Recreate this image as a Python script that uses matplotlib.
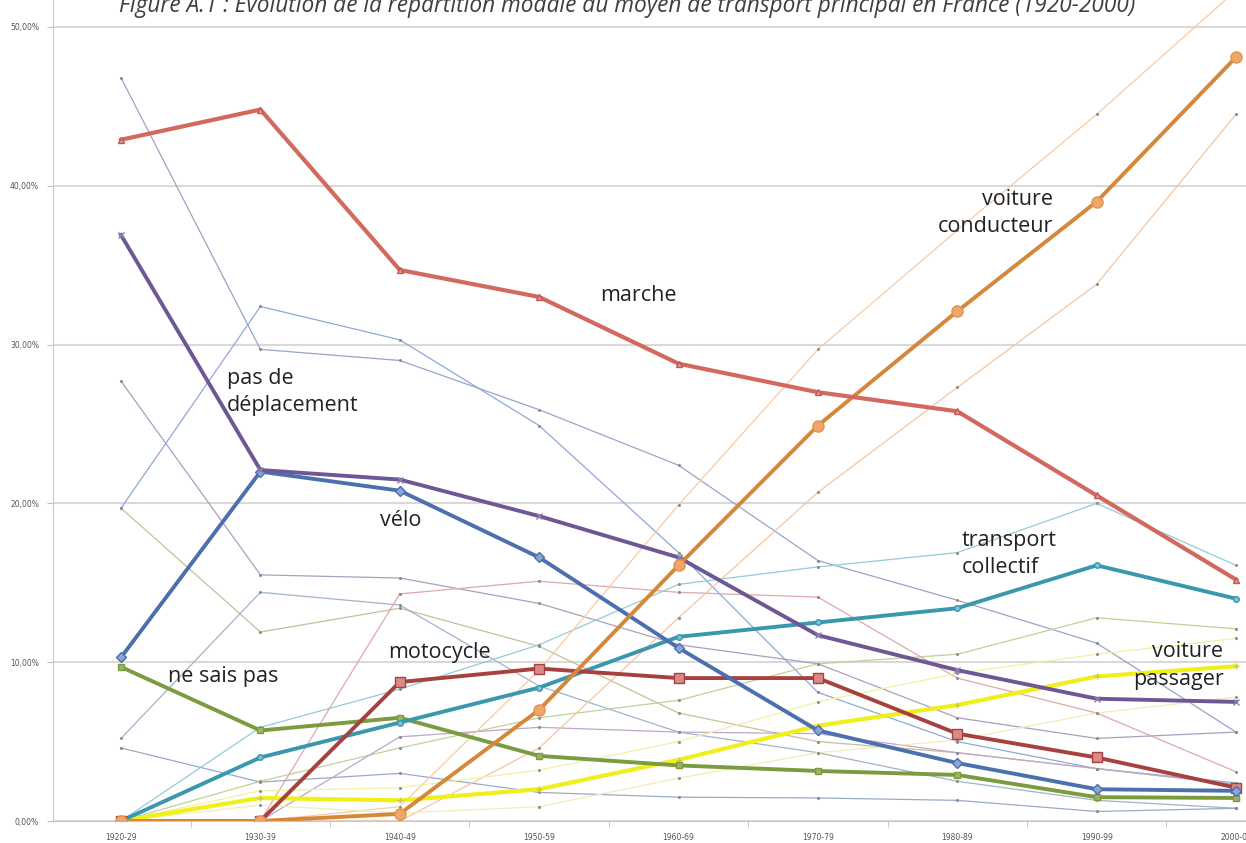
import matplotlib.pyplot as plt
import numpy as np

# périodes (axe x)
periodes = ['1920-29', '1930-39', '1940-49', '1950-59', '1960-69',
            '1970-79', '1980-89', '1990-99', '2000-08']

# séries principales (en %)
marche = [42.9, 44.8, 34.7, 33.0, 28.8, 27.0, 25.8, 20.5, 15.2]
pas_deplacement = [36.9, 22.1, 21.5, 19.2, 16.6, 11.7, 9.5, 7.7, 7.5]
velo = [10.3, 22.0, 20.8, 16.6, 10.9, 5.7, 3.65, 2.0, 1.9]
transport_collectif = [0.0, 4.0, 6.2, 8.4, 11.6, 12.5, 13.4, 16.1, 14.0]
motocycle = [0.0, 0.0, 8.75, 9.6, 9.0, 9.0, 5.5, 4.0, 2.1]
ne_sais_pas = [9.7, 5.7, 6.5, 4.1, 3.5, 3.15, 2.9, 1.5, 1.45]
voiture_conducteur = [0.0, 0.0, 0.45, 7.0, 16.1, 24.9, 32.1, 39.0, 48.1]
voiture_passager = [0.0, 1.45, 1.3, 2.0, 3.85, 6.0, 7.3, 9.1, 9.75]

# séries secondaires (traits fins)
fin_a = [46.8, 29.7, 29.0, 25.9, 22.4, 16.4, 13.9, 11.2, 5.6]
fin_b = [19.7, 32.4, 30.3, 24.9, 16.9, 8.1, 5.0, 3.3, 2.4]
fin_c = [27.7, 15.5, 15.3, 13.7, 11.1, 9.9, 6.5, 5.2, 5.6]
fin_d = [19.7, 11.9, 13.4, 11.0, 6.8, 5.0, 4.3, 3.3, 2.3]
fin_e = [5.2, 14.4, 13.6, 8.5, 5.6, 4.3, 2.5, 1.3, 0.8]
fin_f = [0.0, 5.9, 8.3, 11.1, 14.9, 16.0, 16.9, 20.0, 16.1]
fin_g = [4.6, 2.45, 3.0, 1.8, 1.5, 1.45, 1.3, 0.6, 0.8]
fin_h = [0.0, 2.5, 4.6, 6.5, 7.6, 9.9, 10.5, 12.8, 12.1]
fin_i = [0.0, 0.0, 14.3, 15.1, 14.4, 14.1, 9.0, 6.8, 3.1]
fin_j = [0.0, 0.0, 5.3, 5.9, 5.6, 5.5, 4.3, 3.3, 2.3]
fin_k = [0.0, 0.0, 0.9, 9.5, 19.9, 29.7, 37.2, 44.5, 52.3]
fin_l = [0.0, 0.0, 0.0, 4.6, 12.8, 20.7, 27.3, 33.8, 44.5]
fin_m = [0.0, 1.9, 2.1, 3.2, 5.0, 7.5, 9.3, 10.5, 11.5]
fin_n = [0.0, 1.0, 0.5, 0.9, 2.7, 4.3, 5.1, 6.8, 7.8]

x = np.arange(len(periodes))

fig = plt.figure(figsize=(12.46, 8.43), dpi=100)
ax = fig.add_axes([53 / 1246, 22 / 843, 1253 / 1246, 821 / 843])

# traits fins
fins = [(fin_a, '#97a5c6'), (fin_b, '#8ea9d6'), (fin_c, '#ab9fbf'),
        (fin_d, '#c4c098'), (fin_e, '#a0b4cb'), (fin_f, '#95cbd8'),
        (fin_g, '#97aac8'), (fin_h, '#bfd295'), (fin_i, '#dfa7ab'),
        (fin_j, '#c0a6c9'), (fin_k, '#f7cba5'), (fin_l, '#f3c6a2'),
        (fin_m, '#f1f1a2'), (fin_n, '#eeeeb8')]
for vals, col in fins:
    ax.plot(x, vals, color=col, lw=0.9, marker='o', ms=2.2,
            mfc='#8c8c8c', mec='none', zorder=2)

# traits épais
ax.plot(x, voiture_passager, color='#f0ef1c', lw=3, marker='+', ms=4, mec='#c8c860', zorder=3)
ax.plot(x, ne_sais_pas, color='#7b9b3f', lw=2.8, marker='s', ms=5, mfc='#9bb565', mec='#7b9b3f', zorder=4)
ax.plot(x, transport_collectif, color='#3a97ae', lw=2.8, marker='o', ms=4, mfc='#7cc4d5', mec='#3a97ae', zorder=4)
ax.plot(x, motocycle, color='#a6413f', lw=2.8, marker='s', ms=7, mfc='#d98a88', mec='#a6413f', zorder=5)
ax.plot(x, velo, color='#4c6fae', lw=2.8, marker='D', ms=5, mfc='#8aa6d6', mec='#4c6fae', zorder=5)
ax.plot(x, pas_deplacement, color='#6d5795', lw=2.8, marker='x', ms=5, mec='#8e7bb2', zorder=5)
ax.plot(x, voiture_conducteur, color='#d6873a', lw=2.8, marker='o', ms=8, mfc='#f0a66a', mec='#e0944e', zorder=6)
ax.plot(x, marche, color='#d3695e', lw=3, marker='^', ms=4, mfc='#e09a92', mec='#c05a50', zorder=6)

# étiquettes des séries
lab = dict(fontsize=15.5, color='#222222', family='Open Sans', zorder=10, linespacing=1.4)
ax.text(3.44, 33.1, 'marche', va='center', ha='left', **lab)
ax.text(0.76, 27.0, 'pas de\ndéplacement', va='center', ha='left', **lab)
ax.text(1.86, 18.9, 'vélo', va='center', ha='left', **lab)
ax.text(0.34, 9.1, 'ne sais pas', va='center', ha='left', **lab)
ax.text(1.92, 10.6, 'motocycle', va='center', ha='left', **lab)
ax.text(6.69, 38.3, 'voiture\nconducteur', va='center', ha='right', multialignment='right', **lab)
ax.text(6.03, 16.8, 'transport\ncollectif', va='center', ha='left', **lab)
ax.text(7.91, 9.8, 'voiture\npassager', va='center', ha='right', multialignment='right', **lab)

# axes
ax.set_xlim(-0.488, 8.502)
ax.set_ylim(0, 51.7)
ax.set_yticks([0, 10, 20, 30, 40, 50])
ax.set_yticklabels(['0,00%', '10,00%', '20,00%', '30,00%', '40,00%', '50,00%'],
                   fontsize=5.5, color='#555555')
ax.set_xticks(x)
ax.set_xticklabels(periodes, fontsize=5.5, color='#555555')
ax.set_xticks(x[:-1] + 0.5, minor=True)
ax.tick_params(axis='x', which='major', length=0, pad=9)
ax.tick_params(axis='x', which='minor', length=4, color='#bfbfbf')
ax.tick_params(axis='y', length=4, color='#bfbfbf', pad=6)
ax.grid(axis='y', color='#d9d9d9', lw=1.5, zorder=0)
ax.set_axisbelow(True)
for s in ['top', 'right']:
    ax.spines[s].set_visible(False)
ax.spines['left'].set_color('#c8c8c8')
ax.spines['bottom'].set_color('#c8c8c8')

fig.text(0.503, 1 - 12 / 843,
         'Figure A.1 : Évolution de la répartition modale du moyen de transport principal en France (1920-2000)',
         ha='center', va='baseline', fontsize=16.3, style='italic', color='#3f3f3f',
         family='Open Sans')

fig.savefig('out.png', dpi=100)
